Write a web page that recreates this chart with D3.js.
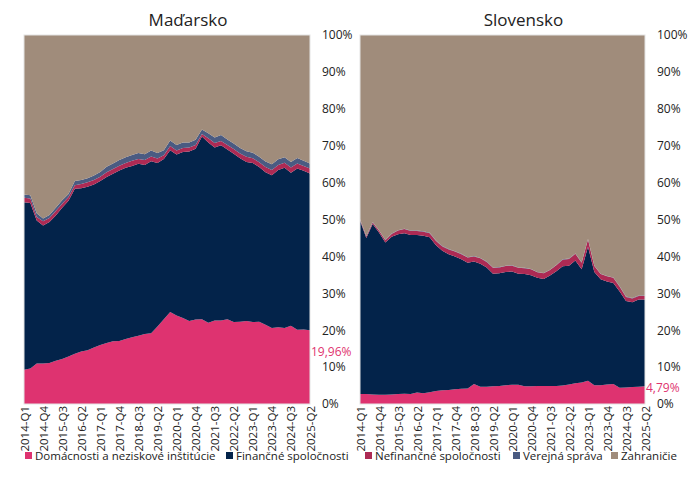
<!doctype html>
<html>
<head>
<meta charset="utf-8">
<style>
  body { margin: 0; background: #fff; }
  text { font-family: "Open Sans", sans-serif; fill: #222; }
</style>
<script src="https://d3js.org/d3.v7.min.js"></script>
</head>
<body>
<svg width="688" height="493" id="chart"></svg>
<script>
// quarters on the x axis
var quarters = ["2014-Q1","2014-Q2","2014-Q3","2014-Q4","2015-Q1","2015-Q2","2015-Q3","2015-Q4",
  "2016-Q1","2016-Q2","2016-Q3","2016-Q4","2017-Q1","2017-Q2","2017-Q3","2017-Q4",
  "2018-Q1","2018-Q2","2018-Q3","2018-Q4","2019-Q1","2019-Q2","2019-Q3","2019-Q4",
  "2020-Q1","2020-Q2","2020-Q3","2020-Q4","2021-Q1","2021-Q2","2021-Q3","2021-Q4",
  "2022-Q1","2022-Q2","2022-Q3","2022-Q4","2023-Q1","2023-Q2","2023-Q3","2023-Q4",
  "2024-Q1","2024-Q2","2024-Q3","2024-Q4","2025-Q1","2025-Q2"];
var tickLabels = ["2014-Q1","2014-Q4","2015-Q3","2016-Q2","2017-Q1","2017-Q4","2018-Q3","2019-Q2",
  "2020-Q1","2020-Q4","2021-Q3","2022-Q2","2023-Q1","2023-Q4","2024-Q3","2025-Q2"];
var yTicks = [0,10,20,30,40,50,60,70,80,90,100];

var seriesNames = ["Domácnosti a neziskové inštitúcie","Finančné spoločnosti","Nefinančné spoločnosti","Verejná správa","Zahraničie"];
var seriesColors = ["#de3370","#03234a","#ad2a54","#4a5b82","#a08c7b"];

// Madarsko (shares in %)
var huHouseholds = [9.3,9.6,11.0,11.0,11.1,11.7,12.2,12.9,13.6,14.2,14.6,15.3,16.0,16.5,17.0,17.1,
  17.6,18.1,18.5,19.0,19.2,21.0,23.0,24.9,24.0,23.3,22.5,22.9,23.0,22.0,22.6,22.6,
  23.0,22.2,22.3,22.5,22.2,22.3,21.5,20.6,20.8,20.6,21.2,20.1,20.2,19.96];
var huFinancial = [45.4,44.9,38.7,37.4,38.2,39.4,41.0,42.2,44.7,44.3,44.3,44.2,44.4,45.0,45.4,46.2,
  46.4,46.4,46.6,45.8,46.6,44.3,43.4,43.9,43.6,45.0,45.9,46.3,49.5,48.9,46.9,47.5,
  46.0,45.6,44.3,43.1,43.1,41.9,41.3,41.4,42.6,43.4,41.5,43.7,43.0,42.54];
var huNonFinancial = [1.2,1.2,1.0,1.1,1.1,1.2,1.1,1.0,1.0,1.1,1.2,1.2,1.2,1.3,1.3,1.3,
  1.3,1.4,1.3,1.3,1.3,1.2,1.0,1.1,1.1,1.1,1.1,1.0,0.7,1.1,1.2,1.2,
  1.2,1.3,1.3,1.4,1.3,1.3,1.4,1.4,1.4,1.4,1.4,1.4,1.3,1.3];
var huGovernment = [0.9,0.9,1.0,0.8,0.8,0.9,0.9,0.8,1.1,1.1,1.1,1.2,1.3,1.5,1.5,1.5,
  1.6,1.6,1.6,1.6,1.6,1.5,1.4,1.5,1.5,1.5,1.4,1.4,1.2,1.4,1.5,1.6,
  1.5,1.5,1.5,1.5,1.5,1.5,1.5,1.6,1.5,1.5,1.5,1.5,1.4,1.4];
var huForeign = [43.2,43.4,48.3,49.7,48.8,46.8,44.8,43.1,39.6,39.3,38.8,38.1,37.1,35.7,34.8,33.9,
  33.1,32.5,32.0,32.3,31.3,32.0,31.2,28.6,29.8,29.1,29.1,28.4,25.6,26.6,27.8,27.1,
  28.3,29.4,30.6,31.5,31.9,33.0,34.3,35.0,33.7,33.1,34.4,33.3,34.1,34.8];

// Slovensko (shares in %)
var skHouseholds = [2.7,2.7,2.6,2.5,2.5,2.6,2.7,2.8,2.7,3.1,2.9,3.2,3.5,3.7,3.8,4.0,
  4.1,4.2,5.4,4.7,4.7,4.8,4.9,5.1,5.2,5.2,4.8,4.8,4.9,4.9,4.9,4.9,
  5.0,5.3,5.6,5.8,6.3,5.1,5.1,5.3,5.4,4.4,4.5,4.6,4.7,4.79];
var skFinancial = [47.0,42.3,46.2,44.0,41.3,42.7,43.3,43.5,43.1,42.7,42.7,42.0,39.5,37.8,36.8,36.0,
  35.1,34.1,33.2,33.3,32.3,30.5,30.5,30.7,30.7,30.1,30.4,30.1,29.3,29.0,29.9,31.1,
  32.3,32.2,33.3,30.7,36.3,30.7,28.7,27.9,27.4,26.1,23.4,23.0,23.6,23.51];
var skNonFinancial = [0.3,0.4,0.4,0.5,0.6,0.8,1.0,1.1,1.1,1.1,1.1,1.1,1.2,1.2,1.3,1.3,
  1.4,1.4,1.4,1.5,1.5,1.6,1.6,1.6,1.6,1.6,1.6,1.6,1.5,1.5,1.5,1.6,
  1.8,1.8,1.8,1.8,2.0,1.6,1.4,1.4,1.4,1.3,1.1,1.0,1.0,1.0];
var skGovernment = [0.1,0.1,0.1,0.1,0.1,0.1,0.1,0.1,0.1,0.1,0.1,0.1,0.1,0.1,0.1,0.1,
  0.1,0.1,0.1,0.1,0.1,0.1,0.1,0.1,0.1,0.1,0.1,0.1,0.1,0.1,0.1,0.1,
  0.1,0.1,0.1,0.1,0.1,0.1,0.1,0.1,0.1,0.1,0.1,0.1,0.1,0.1];
var skForeign = [49.9,54.5,50.7,52.9,55.5,53.8,52.9,52.5,53.0,53.0,53.2,53.6,55.7,57.2,58.0,58.6,
  59.3,60.2,59.9,60.4,61.4,63.0,62.9,62.5,62.4,63.0,63.1,63.4,64.2,64.5,63.6,62.3,
  60.8,60.6,59.2,61.6,55.3,62.5,64.7,65.3,65.7,68.1,70.9,71.3,70.6,70.6];

var svg = d3.select("#chart");
var plotTop = 35, plotBottom = 404;
var keys = ["hh","fin","nonfin","gov","foreign"];

function drawPanel(title, left, right, arrays, lastLabel, labelOffset) {
    var rows = quarters.map(function(q, i) {
        return { q: q, hh: arrays[0][i], fin: arrays[1][i], nonfin: arrays[2][i], gov: arrays[3][i], foreign: arrays[4][i] };
    });
    var stacked = d3.stack().keys(keys).offset(d3.stackOffsetExpand)(rows);

    var x = d3.scalePoint().domain(quarters).range([left, right]);
    var y = d3.scaleLinear().domain([0, 1]).range([plotBottom, plotTop]);

    var area = d3.area()
        .x(function(d) { return x(d.data.q); })
        .y0(function(d) { return y(d[0]); })
        .y1(function(d) { return y(d[1]); });

    var g = svg.append("g");
    g.selectAll("path.layer")
        .data(stacked)
        .enter().append("path")
        .attr("class", "layer")
        .attr("fill", function(d, i) { return seriesColors[i]; })
        .attr("d", area);

    // light frame round the plot
    g.append("rect")
        .attr("x", left).attr("y", plotTop)
        .attr("width", right - left).attr("height", plotBottom - plotTop)
        .attr("fill", "none")
        .attr("stroke", "#e4e4e4")
        .attr("stroke-width", 1);

    // x axis
    var xAxis = g.append("g")
        .attr("transform", "translate(0," + (plotBottom + 2) + ")")
        .call(d3.axisBottom(x).tickValues(tickLabels).tickSize(0).tickPadding(0));
    xAxis.select(".domain").remove();
    xAxis.selectAll("text")
        .attr("font-size", "11.5px")
        .attr("font-family", "'Open Sans', sans-serif")
        .attr("fill", "#222")
        .attr("transform", "rotate(-90)")
        .attr("text-anchor", "end")
        .attr("x", 0)
        .attr("y", 0)
        .attr("dx", 0)
        .attr("dy", "0.35em");

    // y axis on the right
    var yPct = d3.scaleLinear().domain([0, 100]).range([plotBottom, plotTop]);
    var yAxis = g.append("g")
        .attr("transform", "translate(" + (right + 12) + ",0)")
        .call(d3.axisRight(yPct).tickValues(yTicks).tickSize(0).tickPadding(0)
            .tickFormat(function(d) { return d + "%"; }));
    yAxis.select(".domain").remove();
    yAxis.selectAll("text")
        .attr("font-size", "12px")
        .attr("font-family", "'Open Sans', sans-serif")
        .attr("fill", "#222");

    // title
    svg.append("text")
        .attr("x", (left + right + 42) / 2)
        .attr("y", 20)
        .attr("dy", "0.35em")
        .attr("text-anchor", "middle")
        .attr("font-size", "17px")
        .text(title);

    // last value label
    var last = arrays[0][arrays[0].length - 1];
    svg.append("text")
        .attr("x", right + 1)
        .attr("y", yPct(last) + labelOffset)
        .attr("dy", "0.35em")
        .attr("font-size", "12px")
        .style("fill", "#e0336f")
        .text(lastLabel);
}

drawPanel("Maďarsko", 24, 310, [huHouseholds, huFinancial, huNonFinancial, huGovernment, huForeign], "19,96%", 21);
drawPanel("Slovensko", 360, 645, [skHouseholds, skFinancial, skNonFinancial, skGovernment, skForeign], "4,79%", 1);

// legend
var legendX = [32, 233, 372, 520, 618];
var legend = svg.append("g");
seriesNames.forEach(function(name, i) {
    legend.append("rect")
        .attr("x", legendX[i] - 7)
        .attr("y", 452)
        .attr("width", 7)
        .attr("height", 7)
        .attr("fill", seriesColors[i]);
    legend.append("text")
        .attr("x", legendX[i] + 3)
        .attr("y", 456)
        .attr("dy", "0.35em")
        .attr("font-size", "11.5px")
        .text(name);
});
</script>
</body>
</html>
